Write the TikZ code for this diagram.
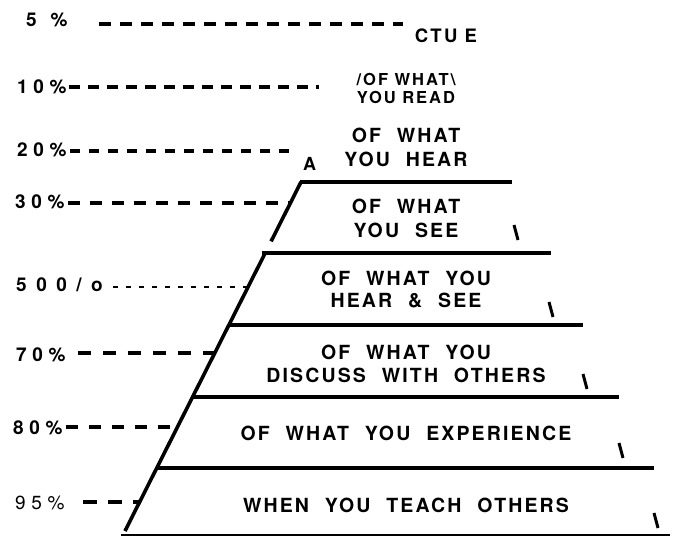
\documentclass[tikz,border=0pt]{standalone}
\usepackage{fontspec}
\usetikzlibrary{positioning,calc}
\newfontfamily\tierfont[LetterSpace=11,WordSpace=2.1]{TeX Gyre Heros}
\newfontfamily\pctfont[LetterSpace=30]{TeX Gyre Heros}
\newfontfamily\widefont[LetterSpace=50]{TeX Gyre Heros}
\newfontfamily\readfont[LetterSpace=12]{TeX Gyre Heros}

\begin{document}
\begin{tikzpicture}[x=1pt, y=-1pt,
    every node/.style={inner sep=0pt},
    tierText/.style={font=\tierfont\bfseries\fontsize{19.5}{23}\selectfont, text height=14pt, text depth=0pt},
    readText/.style={font=\readfont\bfseries\fontsize{16.5}{18}\selectfont, text height=12pt, text depth=0pt},
    pctLabel/.style={anchor=west, font=\pctfont\bfseries\fontsize{19}{22}\selectfont, text height=13.5pt, text depth=0pt},
    tierLine/.style={line width=3.6pt},
    baseLine/.style={line width=1.8pt},
    leader/.style={line width=3.3pt, dash pattern=on 11pt off 8pt},
    tick/.style={line width=3pt}
  ]
  \useasboundingbox (0,0) rectangle (678,536);

  % pyramid
  \coordinate (top) at (301,182);
  \coordinate (bot) at (125,531);
  \foreach \y/\xa/\xb in {182/300/512, 253/262/551, 325/228/583, 397/193/619, 468/158/654}
    \draw[tierLine] (\xa,\y) -- (\xb,\y);
  \draw[baseLine] (121,535) -- (670,535);
  \draw[tierLine] (top) -- ($(top)!0.17!(bot)$);
  \draw[tierLine] ($(top)!0.205!(bot)$) -- (bot);
  \foreach \x/\y in {514/225, 549/302, 583/374, 619/443, 654/513}
    \draw[tick] (\x,\y) -- ++(4,15);

  % percentages
  \node[pctLabel] (p5) at (26,19.5) {5\hspace{14pt}\%};
  \node[pctLabel] (p10) at (17,87) {10\%};
  \node[pctLabel] (p20) at (17,150) {20\%};
  \node[pctLabel] (p30) at (15,202) {30\%};
  \node[pctLabel, font=\widefont\bfseries\fontsize{19}{22}\selectfont] (p50) at (16,285) {500/o};
  \node[pctLabel] (p70) at (16,355) {70\%};
  \node[pctLabel] (p80) at (13,428) {80\%};
  \node[pctLabel, font=\pctfont\fontsize{19}{22}\selectfont] (p95) at (15,503) {95\%};

  % leaders
  \coordinate (e5) at (403,24);
  \coordinate (e10) at (319,87);
  \coordinate (e20) at (289,151);
  \coordinate (e30) at (290,203);
  \coordinate (e50) at (248,287);
  \coordinate (e70) at (214,353);
  \coordinate (e80) at (177,427);
  \coordinate (e95) at (139,502);
  \draw[leader, dash pattern=on 12pt off 9pt, shorten <=31pt] (p5.east |- e5) -- (e5);
  \draw[leader, shorten <=2pt] (p10.east |- e10) -- (e10);
  \draw[leader, dash pattern=on 10pt off 9pt, shorten <=3pt] (p20.east |- e20) -- (e20);
  \draw[leader, dash pattern=on 12pt off 10pt, shorten <=3pt] (p30.east |- e30) -- (e30);
  \draw[leader, line width=2.8pt, dash pattern=on 5pt off 8pt, shorten <=10pt] (p50.east |- e50) -- (e50);
  \draw[leader, dash pattern=on 13pt off 12pt, shorten <=12pt] (p70.east |- e70) -- (e70);
  \draw[leader, dash pattern=on 12pt off 11pt, shorten <=3pt] (p80.east |- e80) -- (e80);
  \draw[leader, dash pattern=on 14pt off 11pt, shorten <=18pt] (p95.east |- e95) -- (e95);

  % tier texts
  \node[readText, font=\readfont\bfseries\fontsize{18.5}{22}\selectfont, text height=13.5pt] (c5) at (446,36) {CTU E};
  \node[readText] (r10a) at (406,79.5) {/OF WHAT\textbackslash};
  \node[readText] (r10b) at (406,97.5) {YOU READ};
  \node[tierText] (t20a) at (406,135) {OF WHAT};
  \node[tierText] (t20b) at (406,159.5) {YOU HEAR};
  \node[tierText, font=\tierfont\bfseries\fontsize{18}{20}\selectfont, text height=13pt] (aMark) at (309.5,163.5) {A};
  \node[tierText] (t30a) at (406,206.5) {OF WHAT};
  \node[tierText] (t30b) at (406,230) {YOU SEE};
  \node[tierText] (t50a) at (406,278.5) {OF WHAT YOU};
  \node[tierText] (t50b) at (406,300) {HEAR \& SEE};
  \node[tierText] (t70a) at (406,352.5) {OF WHAT YOU};
  \node[tierText] (t70b) at (406,375) {DISCUSS WITH OTHERS};
  \node[tierText] (t80) at (406,433.5) {OF WHAT YOU EXPERIENCE};
  \node[tierText] (t95) at (406,505.5) {WHEN YOU TEACH OTHERS};
\end{tikzpicture}
\end{document}
